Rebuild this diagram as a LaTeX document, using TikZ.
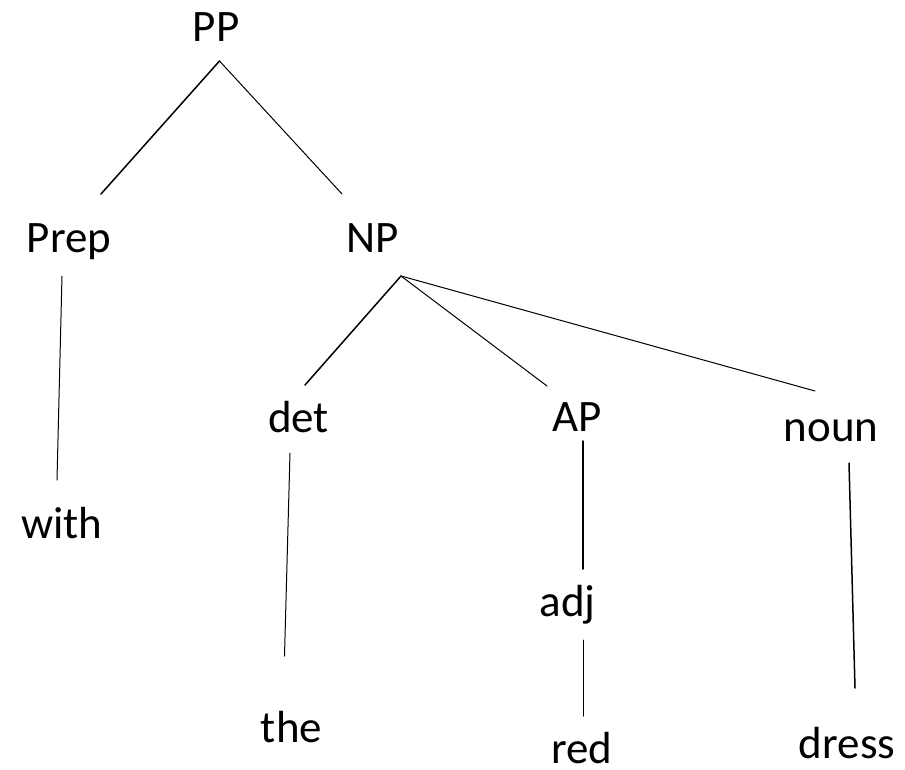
\documentclass[tikz,border=0pt]{standalone}
\usepackage{fontspec}
\setmainfont{Carlito}
\begin{document}
\begin{tikzpicture}[x=1pt,y=-1pt,
  lbl/.style={anchor=base,inner sep=0pt,font=\fontsize{45}{54}\selectfont},
  thick line/.style={line width=1.5pt,line cap=round},
  thin line/.style={line width=1pt,line cap=round}]
\useasboundingbox (0,0) rectangle (905,769);
% labels
\node[lbl] (PP) at (216,41) {PP};
\node[lbl] (Prep) at (69,252) {Prep};
\node[lbl] (NP) at (372.5,252) {NP};
\node[lbl] (with) at (62,538) {with};
\node[lbl] (det) at (298.5,432) {det};
\node[lbl] (AP) at (577,431) {AP};
\node[lbl] (noun) at (831,441) {noun};
\node[lbl] (adj) at (567.5,616) {adj};
\node[lbl] (the) at (291.5,742) {the};
\node[lbl] (red) at (582,763) {red};
\node[lbl] (dress) at (847,758) {dress};
% connector ends
\coordinate (PP-b) at (219.5,61);
\coordinate (Prep-t) at (101,194);
\coordinate (NP-t) at (342,194);
\coordinate (Prep-b) at (62,276);
\coordinate (with-t) at (57,480);
\coordinate (NP-b) at (401,276);
\coordinate (det-t) at (305,385);
\coordinate (AP-t) at (547,386);
\coordinate (noun-t) at (815,391);
\coordinate (det-b) at (290,453);
\coordinate (the-t) at (284.5,656);
\coordinate (AP-b) at (583,441);
\coordinate (adj-t) at (583,569);
\coordinate (adj-b) at (583,640);
\coordinate (red-t) at (583,716);
\coordinate (noun-b) at (849,463);
\coordinate (dress-t) at (855,688);
% connectors
\draw[thick line] (PP-b) -- (Prep-t);
\draw[thin line] (PP-b) -- (NP-t);
\draw[thin line] (Prep-b) -- (with-t);
\draw[thick line] (NP-b) -- (det-t);
\draw[thin line] (NP-b) -- (AP-t);
\draw[thin line] (NP-b) -- (noun-t);
\draw[thin line] (det-b) -- (the-t);
\draw[thick line] (AP-b) -- (adj-t);
\draw[thin line] (adj-b) -- (red-t);
\draw[thick line] (noun-b) -- (dress-t);
\end{tikzpicture}
\end{document}
